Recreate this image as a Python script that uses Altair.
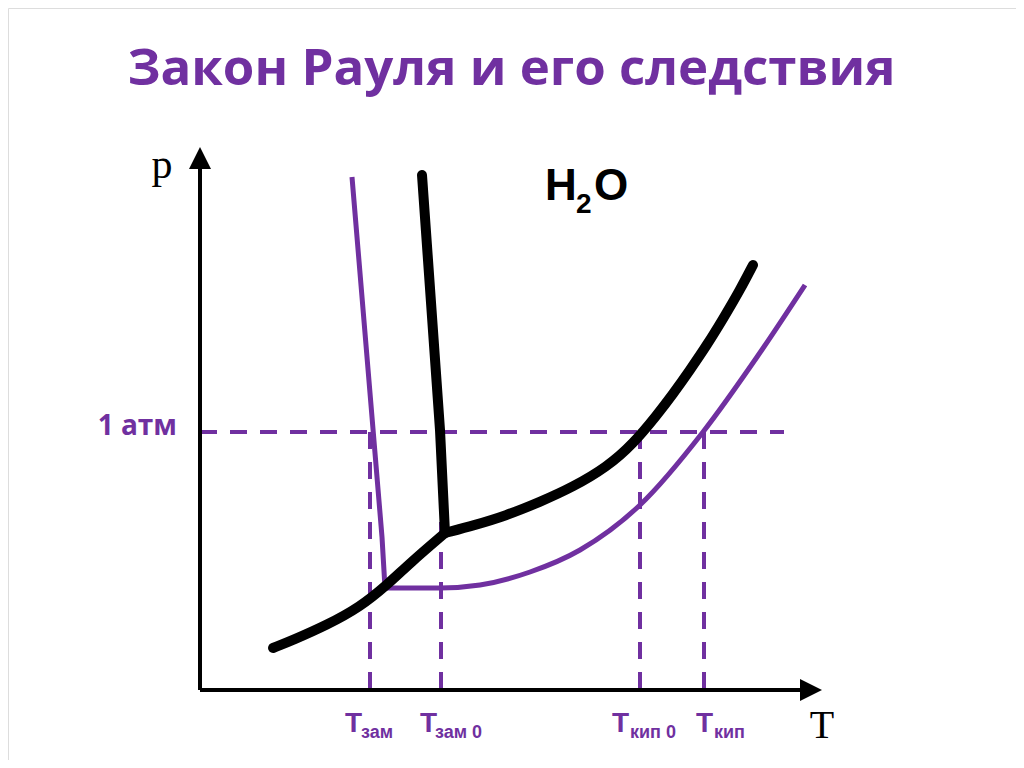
import altair as alt
import pandas as pd

# ---------------- data (T, p in arbitrary schematic units) ----------------
# pure water: sublimation curve (solid/vapour)
sub_T = [73, 93, 127, 160, 187, 210, 245]
sub_p = [42, 50, 65, 83, 105, 127, 157]
# pure water: vaporisation curve (liquid/vapour)
vap_T = [245, 275, 305, 340, 373, 407, 433, 457, 473, 490, 507, 523, 540, 553]
vap_p = [157, 165, 174, 188, 203, 223, 246, 275, 296, 320, 345, 371, 400, 425]
# pure water: melting line
melt_T = [245, 240, 222]
melt_p = [157, 260, 515]
# solution: vapour curve
sol_T = [185, 240, 280, 330, 380, 440, 503, 557, 605]
sol_p = [102, 102, 105, 118, 140, 185, 258, 333, 405]
# solution: freezing line
solm_T = [185, 182, 152]
solm_p = [102, 153, 513]

P_ATM = 258
T_ZAM, T_ZAM0, T_KIP0, T_KIP = 170, 241, 440, 504
crit_T = [T_ZAM, T_ZAM0, T_KIP0, T_KIP]
crit_main = ["Т", "Т", "Т", "Т"]
crit_sub = ["зам", "зам 0", "кип 0", "кип"]

TITLE = "Закон Рауля и его следствия"
PURPLE = "#7030A0"

# ---------------- scales ----------------
W, H = 1008, 752
xs = alt.Scale(domain=[-192, 816], nice=False, zero=False)
ys = alt.Scale(domain=[-70, 682], nice=False, zero=False)
X = lambda f: alt.X(f, scale=xs, axis=None)
Y = lambda f: alt.Y(f, scale=ys, axis=None)


def line(T, p, color, width, cap="butt", interp="linear"):
    df = pd.DataFrame({"T": T, "p": p, "i": range(len(T))})
    return alt.Chart(df).mark_line(
        color=color, strokeWidth=width, strokeCap=cap, strokeJoin="round", interpolate=interp
    ).encode(x=X("T:Q"), y=Y("p:Q"), order="i:Q")


# axes
axes_df = pd.DataFrame({"T": [0, 0], "p": [0, 0], "T2": [0, 605], "p2": [525, 0]})
axes = alt.Chart(axes_df).mark_rule(color="black", strokeWidth=4).encode(
    x=X("T:Q"), y=Y("p:Q"), x2="T2:Q", y2="p2:Q"
)
arrow_up = alt.Chart(pd.DataFrame({"T": [0], "p": [532]})).mark_point(
    shape="M0,-1L1,1L-1,1Z", filled=True, color="black", opacity=1, size=484, strokeWidth=0
).encode(x=X("T:Q"), y=Y("p:Q"))
arrow_right = alt.Chart(pd.DataFrame({"T": [611], "p": [0]})).mark_point(
    shape="M1,0L-1,-1L-1,1Z", filled=True, color="black", opacity=1, size=484, strokeWidth=0
).encode(x=X("T:Q"), y=Y("p:Q"))

# dashed guides
h_df = pd.DataFrame({"T": [0], "T2": [584], "p": [P_ATM]})
hdash = alt.Chart(h_df).mark_rule(color=PURPLE, strokeWidth=4, strokeDash=[17, 13]).encode(
    x=X("T:Q"), x2="T2:Q", y=Y("p:Q")
)
v_df = pd.DataFrame({"T": crit_T, "p": [P_ATM] * 4, "p2": [0] * 4})
vdash = alt.Chart(v_df).mark_rule(color=PURPLE, strokeWidth=4, strokeDash=[17, 13]).encode(
    x=X("T:Q"), y=Y("p:Q"), y2="p2:Q"
)

curves = [
    line(sol_T, sol_p, PURPLE, 5, interp="monotone"),
    line(solm_T, solm_p, PURPLE, 5),
    line(sub_T, sub_p, "black", 10, cap="round", interp="basis"),
    line(vap_T, vap_p, "black", 10, cap="round", interp="basis"),
    line(melt_T, melt_p, "black", 10, cap="round"),
]


def text(T, p, s, size, color="black", font="Liberation Sans", weight="bold", align="left"):
    df = pd.DataFrame({"T": [T], "p": [p], "s": [s]})
    return alt.Chart(df).mark_text(
        font=font, fontSize=size, fontWeight=weight, color=color, align=align, baseline="alphabetic"
    ).encode(x=X("T:Q"), y=Y("p:Q"), text="s:N")


# label layout offsets (relative to the critical temperatures)
main_dx = [-25, -21, -28, -8]
sub_dx = [-9, -6, -10, 10]
labels = []
for t, m, s, a, b in zip(crit_T, crit_main, crit_sub, main_dx, sub_dx):
    labels.append(text(t + a, -42, m, 28, PURPLE))
    labels.append(text(t + b, -48, s, 18, PURPLE))

texts = [
    text(311.5, 605, TITLE, 51, PURPLE, font="Open Sans", align="center"),
    text(-23, P_ATM - 3, "1 атм", 28, PURPLE, font="Open Sans", align="right"),
    text(-38, 512, "p", 42, font="Liberation Serif", weight="normal", align="center"),
    text(622, -48, "T", 40, font="Liberation Serif", weight="normal", align="center"),
    text(345, 490, "H", 44),
    text(376, 477, "2", 28),
    text(394, 490, "O", 44),
]

chart = alt.layer(
    hdash, vdash, *curves, axes, arrow_up, arrow_right, *labels, *texts
).properties(
    width=W, height=H, autosize=alt.AutoSizeParams(type="none"), padding=0
).configure_view(stroke=None).configure(background="white")

chart.save("out.html", embed_options={"renderer": "svg", "actions": False})
